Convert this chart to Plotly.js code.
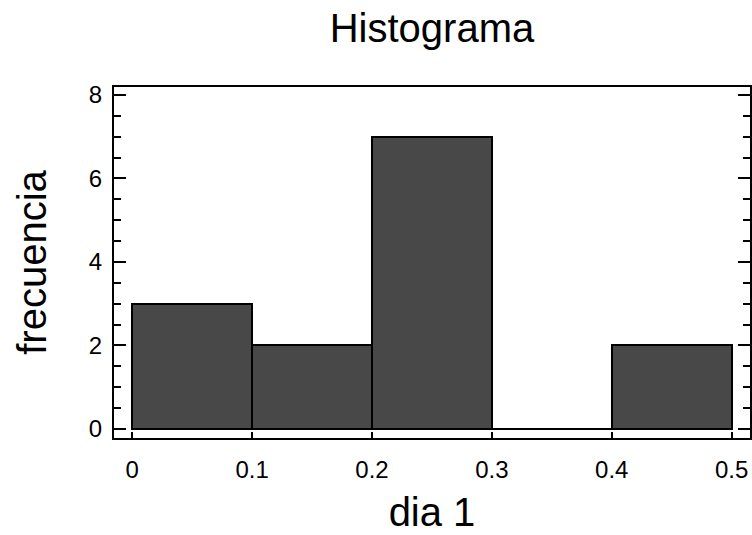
<!DOCTYPE html>
<html>
<head>
<meta charset="utf-8">
<script src="https://cdn.plot.ly/plotly-3.0.1.min.js"></script>
<style>html,body{margin:0;padding:0;background:#fff;}#chart{width:752px;height:535px;}</style>
</head>
<body>
<div id="chart"></div>
<script>
// Data
const binStarts = [0.0, 0.1, 0.2, 0.3, 0.4];
const binWidth = 0.1;
const counts = [3, 2, 7, 0, 2];
const xTickVals = [0, 0.1, 0.2, 0.3, 0.4, 0.5];
const xTickText = ["0", "0.1", "0.2", "0.3", "0.4", "0.5"];
const yTickVals = [0, 2, 4, 6, 8];

const centers = binStarts.map(s => s + binWidth / 2);

// Baseline segments for empty bins (zero-height bars are not drawn by Plotly)
const zx = [], zy = [];
binStarts.forEach((s, i) => {
  if (counts[i] === 0) { zx.push(s, s + binWidth, null); zy.push(counts[i], counts[i], null); }
});

const FONT = "Arial, 'Liberation Sans', sans-serif";

const traces = [
  {
    type: "bar",
    x: centers,
    y: counts,
    width: binStarts.map(() => binWidth),
    marker: { color: "#484848", line: { color: "#000", width: 2 } },
    hoverinfo: "x+y",
    showlegend: false
  },
  {
    type: "scatter",
    mode: "lines",
    x: zx,
    y: zy,
    line: { color: "#000", width: 2 },
    hoverinfo: "skip",
    showlegend: false
  }
];

const layout = {
  width: 752,
  height: 535,
  margin: { l: 114, r: 2, t: 87, b: 97 },
  paper_bgcolor: "#fff",
  plot_bgcolor: "#fff",
  font: { family: FONT, color: "#000" },
  showlegend: false,
  bargap: 0,
  title: {
    text: "Histograma",
    font: { size: 40, family: FONT, color: "#000" },
    x: 0.5, xref: "paper",
    y: 1 - 28 / 535, yref: "container", yanchor: "middle"
  },
  xaxis: {
    range: [-0.0152, 0.5153],
    tickvals: xTickVals,
    ticktext: xTickText,
    ticks: "inside",
    ticklen: 6,
    tickwidth: 2,
    tickcolor: "#000",
    showline: true,
    linewidth: 2,
    linecolor: "#000",
    mirror: true,
    showgrid: false,
    zeroline: false,
    tickfont: { size: 24, family: FONT, color: "#000" },
    ticklabelstandoff: 9,
    title: { text: "dia 1", font: { size: 40, family: FONT, color: "#000" }, standoff: 16 }
  },
  xaxis2: {
    overlaying: "x",
    side: "top",
    range: [-0.0152, 0.5153],
    tickvals: xTickVals,
    ticks: "inside",
    ticklen: 7,
    tickwidth: 2,
    tickcolor: "#000",
    showticklabels: false,
    showgrid: false,
    zeroline: false,
    showline: false,
    minor: { dtick: 0.02, tick0: 0, ticks: "inside", ticklen: 3, tickwidth: 2, tickcolor: "#000", showgrid: false }
  },
  yaxis: {
    range: [-0.216, 8.19],
    tickvals: yTickVals,
    ticks: "inside",
    ticklen: 12,
    tickwidth: 2,
    tickcolor: "#000",
    showline: true,
    linewidth: 2,
    linecolor: "#000",
    mirror: "allticks",
    showgrid: false,
    zeroline: false,
    tickfont: { size: 24, family: FONT, color: "#000" },
    ticklabelstandoff: 5,
    minor: { dtick: 0.5, tick0: 0, ticks: "inside", ticklen: 7, tickwidth: 2, tickcolor: "#000", showgrid: false },
    title: { text: "frecuencia", font: { size: 40, family: FONT, color: "#000" }, standoff: 30 }
  }
};

Plotly.newPlot("chart", traces, layout, { displayModeBar: false, staticPlot: false });
</script>
</body>
</html>
